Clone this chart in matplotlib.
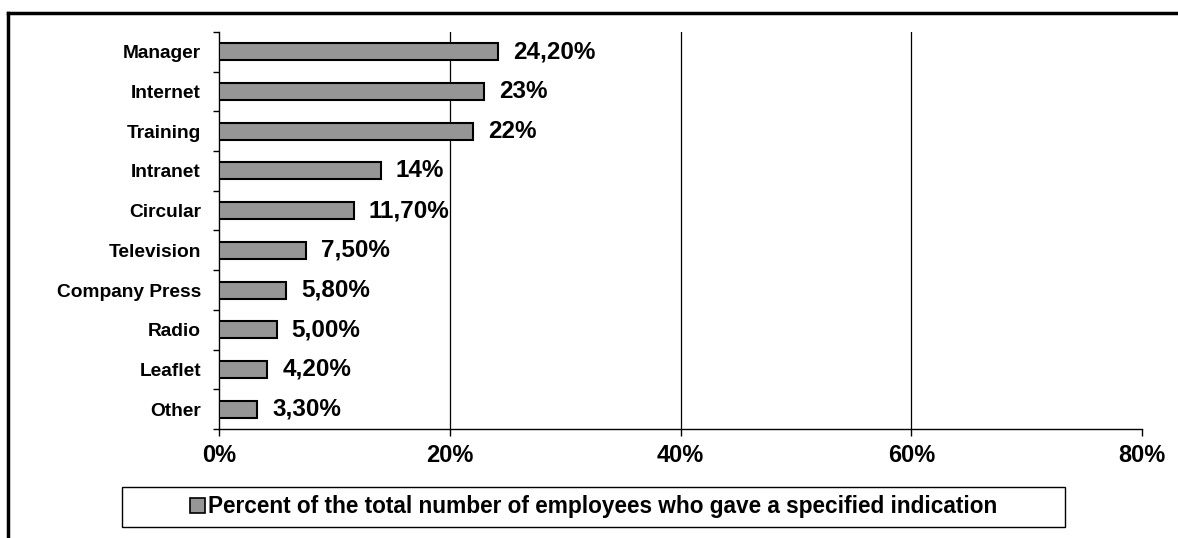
import matplotlib.pyplot as plt
from matplotlib.patches import Rectangle, Patch
from matplotlib.lines import Line2D

categories = ["Manager", "Internet", "Training", "Intranet", "Circular",
              "Television", "Company Press", "Radio", "Leaflet", "Other"]
values = [24.2, 23, 22, 14, 11.7, 7.5, 5.8, 5.0, 4.2, 3.3]
value_labels = ["24,20%", "23%", "22%", "14%", "11,70%", "7,50%",
                "5,80%", "5,00%", "4,20%", "3,30%"]
x_ticks = [0, 20, 40, 60, 80]
legend_label = "Percent of the total number of employees who gave a specified indication"

plt.rcParams["font.family"] = ["Liberation Sans", "DejaVu Sans"]
plt.rcParams["font.weight"] = "bold"

W, H = 1178, 538
fig = plt.figure(figsize=(W / 100, H / 100), dpi=100)
ax = fig.add_axes([219 / W, 1 - 429 / H, (1142 - 219) / W, (429 - 32) / H])

n = len(categories)
ypos = list(range(n))[::-1]
ax.barh(ypos, values, height=0.43, color="#969696", edgecolor="black", linewidth=1.5, zorder=3)

for y, v, lab in zip(ypos, values, value_labels):
    ax.text(v + 1.3, y, lab, va="center", ha="left", fontsize=17.5, fontweight="bold", zorder=4)

ax.set_xlim(0, 80)
ax.set_ylim(-0.5, n - 0.5)
ax.set_xticks(x_ticks)
ax.set_xticklabels([f"{t}%" for t in x_ticks], fontsize=17, fontweight="bold")
ax.tick_params(axis="x", length=5, width=1, pad=6, direction="out")

ax.set_yticks(ypos)
ax.set_yticklabels(categories, fontsize=13.8, fontweight="bold")
ax.tick_params(axis="y", which="major", length=0, pad=13)
ax.set_yticks([i - 0.5 for i in range(n + 1)], minor=True)
ax.tick_params(axis="y", which="minor", length=4.5, width=1, direction="out")

ax.xaxis.grid(True, color="black", linewidth=0.9, zorder=0)
ax.get_xgridlines()[-1].set_visible(False)
ax.get_xgridlines()[0].set_visible(False)
ax.set_axisbelow(True)

for s in ["top", "right"]:
    ax.spines[s].set_visible(False)
for s in ["left", "bottom"]:
    ax.spines[s].set_linewidth(1)

# legend box
fig.patches.append(Rectangle((122 / W, 1 - 527 / H), (1065 - 122) / W, 40 / H,
                             transform=fig.transFigure, facecolor="white",
                             edgecolor="black", linewidth=1))
handle = Patch(facecolor="#969696", edgecolor="black", linewidth=1.2)
fig.legend([handle], [legend_label], loc="center", frameon=False,
           bbox_to_anchor=((122 + 1065) / 2 / W, 1 - 507 / H),
           prop={"size": 16.3, "weight": "bold"}, handlelength=0.65, handleheight=0.65,
           handletextpad=0.15, borderpad=0)

# outer frame
fig.add_artist(Line2D([8 / W, 1], [1 - 13 / H, 1 - 13 / H], color="black", linewidth=2.5,
                      transform=fig.transFigure))
fig.add_artist(Line2D([8 / W, 8 / W], [1 - 13 / H, 0], color="black", linewidth=2.5,
                      transform=fig.transFigure))

fig.savefig("out.png", dpi=100)
